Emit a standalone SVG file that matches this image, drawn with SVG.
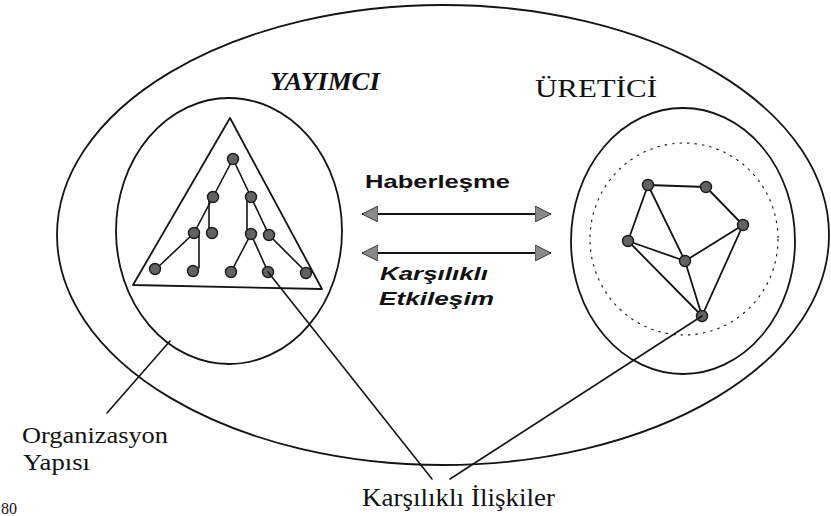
<svg xmlns="http://www.w3.org/2000/svg" width="831" height="516" viewBox="0 0 831 516">
  <defs>
    <style>
      .ln { fill: none; stroke: #141414; stroke-width: 1.8; stroke-linecap: round; stroke-linejoin: round; }
      .thin { fill: none; stroke: #141414; stroke-width: 1.6; stroke-linecap: round; }
      .dot { fill: none; stroke: #222; stroke-width: 1.2; stroke-dasharray: 2.5 5; }
      .nd { fill: #626262; stroke: #1a1a1a; stroke-width: 1.4; }
      .serif { font-family: "Liberation Serif", "Times New Roman", serif; fill: #111; }
      .sans { font-family: "Liberation Sans", Arial, sans-serif; fill: #111; font-weight: bold; }
      .arr { fill: none; stroke: #141414; stroke-width: 1.9; }
    </style>
    <marker id="head" viewBox="0 0 10 10" refX="10" refY="5" markerUnits="userSpaceOnUse" markerWidth="16" markerHeight="16" orient="auto-start-reverse">
      <path d="M0,0 L10,5 L0,10 z" fill="#8a8a8a" stroke="#333" stroke-width="0.6"/>
    </marker>
  </defs>
  <rect width="831" height="516" fill="#ffffff"/>

  <g id="environment">
    <ellipse class="ln" cx="443" cy="235" rx="386" ry="230"/>
  </g>

  <g id="yayimci">
    <text class="serif" x="270" y="90" font-size="25" font-weight="bold" font-style="italic" textLength="110" lengthAdjust="spacingAndGlyphs">YAYIMCI</text>
    <ellipse class="ln" cx="229" cy="231" rx="113" ry="133"/>
    <polygon class="ln" points="230,118 133,285 322,289"/>
    <g id="hierarchy">
      <polyline class="thin" points="233,159 213,197 194,233 156,269"/>
      <polyline class="thin" points="233,159 251,197 269,235 307,273"/>
      <line class="thin" x1="209" y1="197" x2="209" y2="231"/>
      <line class="thin" x1="199" y1="234" x2="199" y2="268"/>
      <line class="thin" x1="247" y1="197" x2="247" y2="232"/>
      <line class="thin" x1="251" y1="234" x2="231" y2="272"/>
      <line class="thin" x1="251" y1="234" x2="268" y2="272"/>
      <circle class="nd" cx="233" cy="159" r="5.5"/>
      <circle class="nd" cx="213" cy="197" r="5.5"/>
      <circle class="nd" cx="251" cy="197" r="5.5"/>
      <circle class="nd" cx="194" cy="233" r="5.5"/>
      <circle class="nd" cx="212" cy="233" r="5.5"/>
      <circle class="nd" cx="251" cy="234" r="5.5"/>
      <circle class="nd" cx="269" cy="235" r="5.5"/>
      <circle class="nd" cx="155" cy="269" r="5.5"/>
      <circle class="nd" cx="193" cy="271" r="5.5"/>
      <circle class="nd" cx="231" cy="272" r="5.5"/>
      <circle class="nd" cx="268" cy="272" r="5.5"/>
      <circle class="nd" cx="306" cy="273" r="5.5"/>
    </g>
  </g>

  <g id="uretici">
    <text class="serif" x="535" y="97" font-size="25" textLength="122" lengthAdjust="spacingAndGlyphs">ÜRETİCİ</text>
    <ellipse class="ln" cx="683" cy="241" rx="112" ry="133"/>
    <ellipse class="dot" cx="684" cy="239" rx="94" ry="96"/>
    <g id="network">
      <polygon class="ln" points="648,185 706,187 743,225 702,316 628,241"/>
      <line class="ln" x1="648" y1="185" x2="685" y2="261"/>
      <line class="ln" x1="628" y1="241" x2="685" y2="261"/>
      <line class="ln" x1="743" y1="225" x2="685" y2="261"/>
      <line class="ln" x1="685" y1="261" x2="702" y2="316"/>
      <circle class="nd" cx="648" cy="185" r="5.5"/>
      <circle class="nd" cx="706" cy="187" r="5.5"/>
      <circle class="nd" cx="743" cy="225" r="5.5"/>
      <circle class="nd" cx="628" cy="241" r="5.5"/>
      <circle class="nd" cx="685" cy="261" r="5.5"/>
      <circle class="nd" cx="702" cy="316" r="5.5"/>
    </g>
  </g>

  <g id="connectors">
    <line class="arr" x1="362" y1="214" x2="551" y2="214" marker-start="url(#head)" marker-end="url(#head)"/>
    <line class="arr" x1="362" y1="253" x2="551" y2="253" marker-start="url(#head)" marker-end="url(#head)"/>
    <line class="thin" x1="107" y1="413" x2="170" y2="341"/>
    <line class="thin" x1="268" y1="272" x2="432" y2="479"/>
    <line class="thin" x1="702" y1="316" x2="450" y2="479"/>
  </g>

  <g id="labels">
    <text class="sans" x="365" y="188" font-size="18.5" textLength="145" lengthAdjust="spacingAndGlyphs">Haberleşme</text>
    <text class="sans" x="380" y="280" font-size="18.5" font-style="italic" textLength="108" lengthAdjust="spacingAndGlyphs">Karşılıklı</text>
    <text class="sans" x="379" y="305" font-size="18.5" font-style="italic" textLength="115" lengthAdjust="spacingAndGlyphs">Etkileşim</text>
    <text class="serif" x="22" y="443" font-size="22.5" textLength="146" lengthAdjust="spacingAndGlyphs">Organizasyon</text>
    <text class="serif" x="23" y="470" font-size="22.5" textLength="67" lengthAdjust="spacingAndGlyphs">Yapısı</text>
    <text class="serif" x="362" y="506" font-size="25" textLength="193" lengthAdjust="spacingAndGlyphs">Karşılıklı İlişkiler</text>
    <text class="serif" x="1" y="514" font-size="16">80</text>
  </g>
</svg>
